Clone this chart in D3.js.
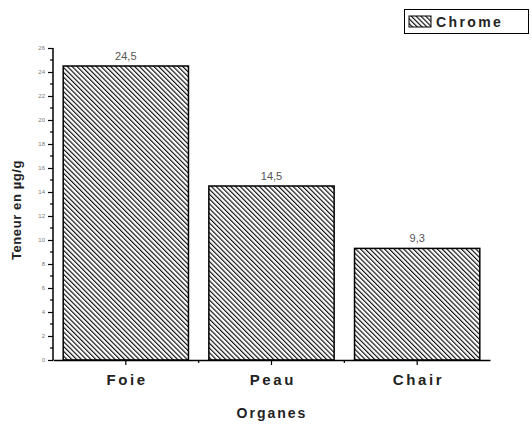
<!DOCTYPE html>
<html><head><meta charset="utf-8">
<script src="https://cdn.jsdelivr.net/npm/d3@7"></script>
<style>
html,body{margin:0;padding:0;background:#fff;}
svg{display:block;font-family:"Liberation Sans",Arial,sans-serif;}
</style></head>
<body>
<script>
const categories = ["Foie", "Peau", "Chair"];
const values = [24.5, 14.5, 9.3];
const valueLabels = ["24,5", "14,5", "9,3"];
const yTicks = [0, 2, 4, 6, 8, 10, 12, 14, 16, 18, 20, 22, 24, 26];
const yMinorTicks = [1, 3, 5, 7, 9, 11, 13, 15, 17, 19, 21, 23, 25];
const seriesName = "Chrome";
const xTitle = "Organes";
const yTitle = "Teneur en µg/g";

const W = 532, H = 424;
const svg = d3.select("body").append("svg").attr("width", W).attr("height", H);

const defs = svg.append("defs");
const pat = defs.append("pattern").attr("id", "hatch")
  .attr("patternUnits", "userSpaceOnUse").attr("width", 3.4).attr("height", 3.4)
  .attr("patternTransform", "rotate(-45)");
pat.append("rect").attr("width", 3.4).attr("height", 3.4).attr("fill", "#fff");
pat.append("line").attr("x1", 0.6).attr("y1", 0).attr("x2", 0.6).attr("y2", 3.4)
  .attr("stroke", "#000").attr("stroke-width", 1.1);

const x = d3.scaleBand().domain(categories).range([53, 490]).paddingInner(0.14).paddingOuter(0.07);
const y = d3.scaleLinear().domain([0, 26]).range([360, 48]);

// bars
svg.append("g").selectAll("rect").data(categories).join("rect")
  .attr("x", d => x(d)).attr("width", x.bandwidth())
  .attr("y", (d, i) => y(values[i])).attr("height", (d, i) => y(0) - y(values[i]))
  .attr("fill", "url(#hatch)").attr("stroke", "#000").attr("stroke-width", 1.5);

// value labels
svg.append("g").selectAll("text").data(categories).join("text")
  .attr("x", d => x(d) + x.bandwidth() / 2).attr("y", (d, i) => y(values[i]) - 6)
  .attr("text-anchor", "middle").attr("font-size", 11).attr("fill", "#555")
  .text((d, i) => valueLabels[i]);

// y axis
const yAxis = svg.append("g").attr("transform", "translate(53,0)")
  .call(d3.axisLeft(y).tickValues(yTicks).tickSize(5).tickPadding(3).tickFormat(d3.format("d")));
yAxis.select(".domain").attr("stroke-width", 1.5).attr("d", `M-0,${y(0)}V${y(26)}`);
yAxis.selectAll(".tick line").attr("stroke-width", 1.2);
yAxis.selectAll(".tick text").attr("font-size", 6).attr("fill", "#777");
svg.append("g").selectAll("line").data(yMinorTicks).join("line")
  .attr("x1", 50).attr("x2", 53).attr("y1", d => y(d)).attr("y2", d => y(d))
  .attr("stroke", "#000").attr("stroke-width", 1.2);

// x axis
const xAxis = svg.append("g").attr("transform", `translate(0,${y(0)})`)
  .call(d3.axisBottom(x).tickSize(5).tickPadding(9).tickSizeOuter(0));
xAxis.select(".domain").attr("stroke-width", 1.5);
xAxis.selectAll(".tick line").attr("stroke-width", 1.2);
xAxis.selectAll(".tick text").attr("font-size", 15).attr("font-weight", "bold")
  .attr("fill", "#222").attr("letter-spacing", 2.6).attr("dx", 1.3);
// minor x ticks at category boundaries
const bounds = categories.slice(1).map(c => x(c) - x.step() * x.paddingInner() / 2);
svg.append("g").selectAll("line").data(bounds).join("line")
  .attr("x1", d => d).attr("x2", d => d).attr("y1", y(0)).attr("y2", y(0) + 3)
  .attr("stroke", "#000").attr("stroke-width", 1.2);

// axis titles
svg.append("text").attr("x", 272).attr("y", 418).attr("text-anchor", "middle")
  .attr("font-size", 14).attr("font-weight", "bold").attr("fill", "#222")
  .attr("letter-spacing", 2).text(xTitle);
svg.append("text").attr("transform", "translate(21,210) rotate(-90)").attr("text-anchor", "middle")
  .attr("font-size", 13).attr("font-weight", "bold").attr("fill", "#222")
  .attr("letter-spacing", 0.6).text(yTitle);

// legend
const lg = svg.append("g");
lg.append("rect").attr("x", 404.5).attr("y", 9.5).attr("width", 124).attr("height", 24)
  .attr("fill", "#fff").attr("stroke", "#000").attr("stroke-width", 1);
lg.append("rect").attr("x", 409).attr("y", 16).attr("width", 22).attr("height", 11)
  .attr("fill", "url(#hatch)").attr("stroke", "#000").attr("stroke-width", 1);
lg.append("text").attr("x", 436).attr("y", 27).attr("font-size", 14).attr("font-weight", "bold")
  .attr("fill", "#222").attr("letter-spacing", 2.4).text(seriesName);
</script>
</body></html>
